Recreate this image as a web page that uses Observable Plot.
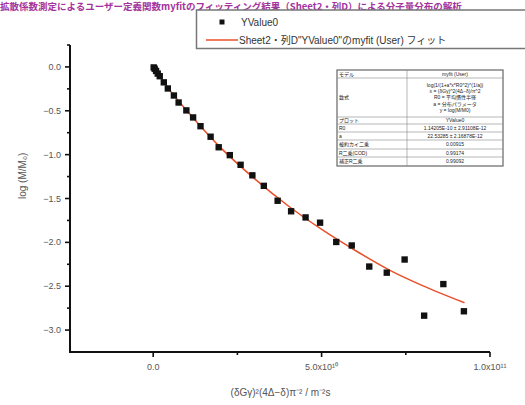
<!DOCTYPE html>
<html>
<head>
<meta charset="utf-8">
<script src="https://cdn.jsdelivr.net/npm/d3@7"></script>
<script src="https://cdn.jsdelivr.net/npm/@observablehq/plot@0.6"></script>
<style>
  html, body { margin:0; padding:0; background:#fff; }
</style>
</head>
<body>
<div id="wrap"></div>
<script>
// ---- data (x in units of m^-2 s, y = log(M/M0)) ----
const xData = [0.0, 0.03e10, 0.07e10, 0.12e10, 0.18e10, 0.30e10, 0.42e10, 0.60e10, 0.74e10, 0.97e10,
               1.17e10, 1.39e10, 1.69e10, 1.93e10, 2.26e10, 2.58e10, 2.93e10, 3.27e10, 3.68e10, 4.08e10,
               4.51e10, 4.94e10, 5.42e10, 5.88e10, 6.40e10, 6.92e10, 7.45e10, 8.03e10, 8.60e10, 9.21e10];
const yData = [0.0, -0.015, -0.04, -0.07, -0.10, -0.17, -0.24, -0.32, -0.40, -0.49,
               -0.57, -0.67, -0.79, -0.91, -1.00, -1.11, -1.23, -1.35, -1.52, -1.64,
               -1.71, -1.77, -1.99, -2.03, -2.27, -2.34, -2.19, -2.83, -2.47, -2.78];
// fitted curve
const xFit = [0.0, 0.5e10, 1e10, 2e10, 3e10, 4e10, 5e10, 6e10, 7e10, 8e10, 9.21e10];
const yFit = [0.0, -0.27, -0.50, -0.92, -1.27, -1.58, -1.85, -2.09, -2.31, -2.49, -2.68];

const xMajor = [0, 5e10, 1e11];
const xMajorLabels = ["0.0", "5.0x10¹⁰", "1.0x10¹¹"];
const xMinor = [2.5e10, 7.5e10];
const yMajor = [0, -0.5, -1.0, -1.5, -2.0, -2.5, -3.0];
const yMajorLabels = ["0.0", "−0.5", "−1.0", "−1.5", "−2.0", "−2.5", "−3.0"];
const yMinor = [0.25, -0.25, -0.75, -1.25, -1.75, -2.25, -2.75];

const xLabel = "(δGγ)²(4Δ−δ)π⁻² / m⁻²s";
const yLabel = "log (M/M₀)";
const titleText = "拡散係数測定によるユーザー定義関数myfitのフィッティング結果（Sheet2・列D）による分子量分布の解析";
const legendNames = ["YValue0", "Sheet2・列D\"YValue0\"のmyfit (User) フィット"];

const statLabels = ["モデル", "数式", "プロット", "R0", "a", "被約カイ二乗", "R二乗(COD)", "補正R二乗"];
const statValues = [
  ["myfit (User)"],
  ["log(1/(1+a*x*R0^2)^(1/a))", "x = (δGγ)^2(4Δ−δ)/π^2", "R0 = 平均慣性半径", "a = 分布パラメータ", "y = log(M/M0)"],
  ["YValue0"],
  ["1.14205E-10 ± 2.91108E-12"],
  ["22.53285 ± 2.16878E-12"],
  ["0.00915"],
  ["0.99174"],
  ["0.99092"]
];

const pts = xData.map((x, i) => ({x, y: yData[i]}));
const fit = xFit.map((x, i) => ({x, y: yFit[i]}));
const xDomain = [-2.47e10, 1e11];
const yDomain = [-3.25, 0.25];
const axisColor = "#111";
const labelColor = "#555";
const fontStack = "'Liberation Sans', 'Noto Sans CJK JP', sans-serif";

const chart = Plot.plot({
  width: 525, height: 405,
  marginLeft: 70, marginRight: 35, marginTop: 45, marginBottom: 53,
  style: {fontFamily: fontStack, fontSize: "9px"},
  x: {domain: xDomain, axis: null},
  y: {domain: yDomain, axis: null},
  marks: [
    Plot.line(fit, {x: "x", y: "y", stroke: "#e8502a", strokeWidth: 1.5, curve: "monotone-x"}),
    Plot.dot(pts, {x: "x", y: "y", symbol: "square", r: 3.6, fill: "#111", stroke: "none"}),
    Plot.text([xLabel], {frameAnchor: "bottom", dy: 43, fontSize: 10, fill: labelColor}),
    Plot.text([yLabel], {frameAnchor: "left", dx: -48, rotate: -90, fontSize: 10, fill: labelColor})
  ]
});

document.getElementById("wrap").appendChild(chart);
const svg = d3.select(chart);
const sx = chart.scale("x"), sy = chart.scale("y");
const X = v => sx.apply(v), Y = v => sy.apply(v);

// axes drawn from Plot's own scales
const ax = svg.append("g").attr("font-family", fontStack).attr("font-size", 9);
const x0 = X(xDomain[0]), x1 = X(xDomain[1]), y0 = Y(yDomain[0]), y1 = Y(yDomain[1]);
ax.append("line").attr("x1", x0).attr("x2", x0).attr("y1", y1).attr("y2", y0 + 1)
  .attr("stroke", axisColor).attr("stroke-width", 2);
ax.append("line").attr("x1", x0 - 1).attr("x2", x1).attr("y1", y0).attr("y2", y0)
  .attr("stroke", axisColor).attr("stroke-width", 2);
xMajor.forEach((v, i) => {
  ax.append("line").attr("x1", X(v)).attr("x2", X(v)).attr("y1", y0).attr("y2", y0 + 5)
    .attr("stroke", axisColor).attr("stroke-width", 1.6);
  ax.append("text").attr("x", X(v)).attr("y", y0 + 18).attr("text-anchor", "middle")
    .attr("fill", labelColor).text(xMajorLabels[i]);
});
xMinor.forEach(v => {
  ax.append("line").attr("x1", X(v)).attr("x2", X(v)).attr("y1", y0).attr("y2", y0 + 3)
    .attr("stroke", axisColor).attr("stroke-width", 1.6);
});
yMajor.forEach((v, i) => {
  ax.append("line").attr("x1", x0 - 5).attr("x2", x0).attr("y1", Y(v)).attr("y2", Y(v))
    .attr("stroke", axisColor).attr("stroke-width", 1.6);
  ax.append("text").attr("x", x0 - 9).attr("y", Y(v) + 3).attr("text-anchor", "end")
    .attr("fill", labelColor).text(yMajorLabels[i]);
});
yMinor.forEach(v => {
  ax.append("line").attr("x1", x0 - 3).attr("x2", x0).attr("y1", Y(v)).attr("y2", Y(v))
    .attr("stroke", axisColor).attr("stroke-width", 1.6);
});

// title
svg.append("text").attr("x", 0).attr("y", 9.5)
  .attr("font-size", 9.5).attr("font-weight", "bold").attr("fill", "#a3339c")
  .attr("font-family", "'Noto Sans CJK JP', sans-serif").attr("text-anchor", "start")
  .text(titleText);

// legend box
const lg = svg.append("g").attr("font-family", fontStack).attr("font-size", 10).attr("fill", "#333");
lg.append("rect").attr("x", 196.5).attr("y", 10).attr("width", 340).attr("height", 38.5)
  .attr("fill", "#fff").attr("stroke", "#777").attr("stroke-width", 1.5);
lg.append("rect").attr("x", 219.5).attr("y", 19.5).attr("width", 5).attr("height", 5).attr("fill", "#111");
lg.append("text").attr("x", 241).attr("y", 25.5).attr("text-anchor", "start").text(legendNames[0]);
lg.append("line").attr("x1", 206).attr("x2", 238).attr("y1", 40).attr("y2", 40)
  .attr("stroke", "#e8502a").attr("stroke-width", 1.5);
lg.append("text").attr("x", 239).attr("y", 43.5).attr("text-anchor", "start").text(legendNames[1]);

// statistics table
const tx = 337, ty = 70, tw = 166, colX = 407;
const rowH = [8, 39, 7, 8, 8, 9, 8, 9];
const tg = svg.append("g").attr("font-family", fontStack).attr("font-size", 5).attr("fill", "#222");
let yy = ty;
const totalH = rowH.reduce((a, b) => a + b, 0);
tg.append("rect").attr("x", tx).attr("y", ty).attr("width", tw).attr("height", totalH)
  .attr("fill", "#fff").attr("stroke", "#666").attr("stroke-width", 1.2);
tg.append("line").attr("x1", colX).attr("x2", colX).attr("y1", ty).attr("y2", ty + totalH)
  .attr("stroke", "#888").attr("stroke-width", 0.6);
statLabels.forEach((lab, i) => {
  const h = rowH[i];
  if (i > 0) tg.append("line").attr("x1", tx).attr("x2", tx + tw).attr("y1", yy).attr("y2", yy)
    .attr("stroke", "#888").attr("stroke-width", 0.6);
  tg.append("text").attr("x", tx + 2).attr("y", yy + h / 2 + 1.8).attr("text-anchor", "start").text(lab);
  const vals = statValues[i];
  const lh = 6.2;
  const yv = yy + h / 2 - (vals.length - 1) * lh / 2 + 1.8;
  vals.forEach((v, j) => {
    tg.append("text").attr("x", (colX + tx + tw) / 2).attr("y", yv + j * lh).attr("text-anchor", "middle").text(v);
  });
  yy += h;
});
</script>
</body>
</html>
